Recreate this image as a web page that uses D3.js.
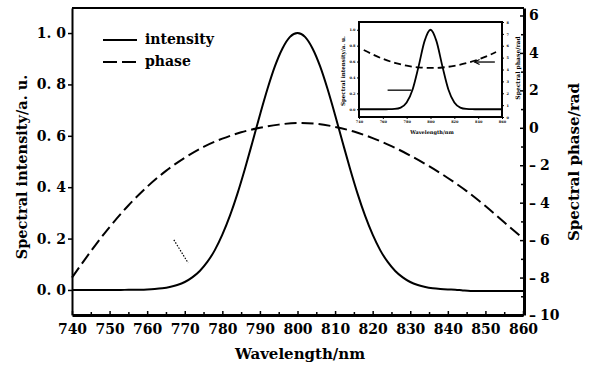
<!DOCTYPE html>
<html>
<head>
<meta charset="utf-8">
<script src="https://cdn.jsdelivr.net/npm/d3@7/dist/d3.min.js"></script>
<style>
  body { margin: 0; background: #fff; }
  svg { display: block; font-family: "DejaVu Serif", serif; }
  .axis path, .axis line { stroke: #000; }
  .axis text { fill: #000; font-family: "DejaVu Serif", serif; font-weight: bold; font-size: 14px; }
  .inset .axis text { font-size: 3.5px; }
</style>
</head>
<body>
<svg id="chart" width="593" height="372"></svg>
<script>
// ---- main chart data ----
var wavelength = [740,742,744,746,748,750,752,754,756,758,760,762,764,766,768,770,772,774,776,778,
  780,782,784,786,788,790,792,794,796,798,800,802,804,806,808,810,812,814,816,818,
  820,822,824,826,828,830,832,834,836,838,840,842,844,846,848,850,852,854,856,858,860];
var intensity = [0,0,0,0,0,0,0.0001,0.0003,0.0006,0.0011,0.0021,0.0039,0.0068,0.0117,0.0195,0.031,0.049,0.074,0.109,0.155,
  0.215,0.288,0.374,0.471,0.575,0.681,0.782,0.871,0.940,0.985,1.0,0.985,0.940,0.871,0.782,0.681,0.575,0.471,0.374,0.288,
  0.215,0.155,0.109,0.074,0.049,0.031,0.0195,0.0117,0.0068,0.0039,0.0021,0.0011,-0.002,-0.004,-0.004,-0.004,-0.004,-0.004,-0.004,-0.004,-0.004];

var phaseWavelength = [740,745,750,755,760,765,770,775,780,785,790,795,800,805,810,815,820,825,830,835,840,845,850,855,860];
var phase = [-8.0,-6.6,-5.3,-4.15,-3.15,-2.3,-1.6,-1.02,-0.58,-0.24,0.0,0.17,0.26,0.22,0.05,-0.2,-0.55,-0.98,-1.48,-2.05,-2.68,-3.38,-4.18,-5.05,-5.9];

var xTicks = [740,750,760,770,780,790,800,810,820,830,840,850,860];
var xMinorTicks = [745,755,765,775,785,795,805,815,825,835,845,855];
var intensityTicks = [0,0.2,0.4,0.6,0.8,1.0];
var phaseTicks = [6,4,2,0,-2,-4,-6,-8,-10];
var phaseMinorTicks = [5,3,1,-1,-3,-5,-7,-9];
var legendLabels = ['intensity', 'phase'];

// stray dotted stroke in the scan, in data units (wavelength, intensity)
var strayMark = [[767.1, 0.195], [770.9, 0.105]];

// ---- inset data ----
var insetWavelength = [740,745,750,755,760,765,770,775,780,785,790,795,800,805,810,815,820,825,830,835,840,845,850,855,860];
var insetIntensity = [0,0,0,0,0,0.0005,0.004,0.021,0.085,0.249,0.539,0.857,1.0,0.857,0.539,0.249,0.085,0.021,0.004,0.0005,0,0,0,0,0];
var insetPhaseWavelength = [744,750,760,770,780,790,800,810,820,830,840,850,855];
var insetPhase = [5.64,5.34,4.90,4.56,4.32,4.18,4.13,4.17,4.31,4.53,4.84,5.24,5.47];
var insetXTicks = [740,760,780,800,820,840,860];
var insetIntensityTicks = [0,0.2,0.4,0.6,0.8,1.0];
var insetPhaseTicks = [0,1,2,3,4,5,6,7,8];
// arrows in the inset: [from wavelength, to wavelength, value, which axis]
var insetArrows = [[764, 784, 0.24, 'left'], [837, 854, 4.63, 'right']];

var svg = d3.select('#chart');

var x = d3.scaleLinear().domain([740, 860]).range([72, 523]);
var yI = d3.scaleLinear().domain([-0.0975, 1.0975]).range([315, 8]);
var yP = d3.scaleLinear().domain([-10, 6.4]).range([315, 8]);

var fmtI = function(d){ return d.toFixed(1).replace('.', '. '); };

// curves
var lineI = d3.line()
  .x(function(d, i){ return x(wavelength[i]); })
  .y(function(d){ return yI(d); })
  .curve(d3.curveMonotoneX);

var lineP = d3.line()
  .x(function(d, i){ return x(phaseWavelength[i]); })
  .y(function(d){ return yP(d); })
  .curve(d3.curveMonotoneX);

svg.append('path').attr('d', lineP(phase))
  .attr('fill', 'none').attr('stroke', '#000').attr('stroke-width', 2)
  .attr('stroke-dasharray', '12,5');

svg.append('path').attr('d', lineI(intensity))
  .attr('fill', 'none').attr('stroke', '#000').attr('stroke-width', 2);

svg.append('line')
  .attr('x1', x(strayMark[0][0])).attr('y1', yI(strayMark[0][1]))
  .attr('x2', x(strayMark[1][0])).attr('y2', yI(strayMark[1][1]))
  .attr('stroke', '#000').attr('stroke-width', 1.2).attr('stroke-dasharray', '1.5,1.5');

// frame top
svg.append('line').attr('x1', 72).attr('x2', 524).attr('y1', 8).attr('y2', 8)
  .attr('stroke', '#000').attr('stroke-width', 2);

// left axis
svg.append('g').attr('class', 'axis')
  .attr('transform', 'translate(72,0)')
  .call(d3.axisLeft(yI).tickValues(intensityTicks).tickFormat(fmtI).tickSizeOuter(0).tickSizeInner(4).tickPadding(2))
  .call(function(g){ g.select('.domain').attr('stroke-width', 2); g.selectAll('line').attr('stroke-width', 1.5); });

// bottom axis
svg.append('g').attr('class', 'axis')
  .attr('transform', 'translate(0,315)')
  .call(d3.axisBottom(x).tickValues(xTicks).tickFormat(d3.format('d')).tickSizeOuter(0).tickSizeInner(-4).tickPadding(9))
  .call(function(g){ g.select('.domain').attr('stroke-width', 3); g.selectAll('line').attr('stroke-width', 1.5); });

svg.append('g').attr('class', 'axis')
  .attr('transform', 'translate(0,315)')
  .call(d3.axisBottom(x).tickValues(xMinorTicks).tickFormat('').tickSizeOuter(0).tickSizeInner(-3))
  .call(function(g){ g.select('.domain').remove(); g.selectAll('line').attr('stroke-width', 1.5); });

// right axis: numbers only, the minus of a negative label is its own tspan
svg.append('g').attr('class', 'axis')
  .attr('transform', 'translate(524,0)')
  .call(d3.axisRight(yP).tickValues(phaseTicks).tickFormat(function(d){ return String(Math.abs(d)); })
    .tickSizeOuter(0).tickSizeInner(-4).tickPadding(5))
  .call(function(g){
    g.select('.domain').attr('stroke-width', 3);
    g.selectAll('line').attr('stroke-width', 1.5);
    g.selectAll('.tick text').filter(function(d){ return d < 0; })
      .each(function(){
        var t = d3.select(this), num = t.text();
        t.text('');
        t.append('tspan').style('fill', '#000').text('\u2013');
        t.append('tspan').attr('dx', 4).text(num);
      });
  });

svg.append('g').attr('class', 'axis')
  .attr('transform', 'translate(524,0)')
  .call(d3.axisRight(yP).tickValues(phaseMinorTicks).tickFormat('').tickSizeOuter(0).tickSizeInner(-3))
  .call(function(g){ g.select('.domain').remove(); g.selectAll('line').attr('stroke-width', 1.5); });

// axis titles
svg.append('text')
  .attr('transform', 'translate(27,167) rotate(-90)')
  .attr('text-anchor', 'middle')
  .style('font-size', '14.5px').style('font-weight', 'bold')
  .text('Spectral intensity/a. u.');

svg.append('text')
  .attr('transform', 'translate(579,162) rotate(-90)')
  .attr('text-anchor', 'middle')
  .style('font-size', '15px').style('font-weight', 'bold')
  .text('Spectral phase/rad');

svg.append('text')
  .attr('x', 300).attr('y', 359)
  .attr('text-anchor', 'middle')
  .style('font-size', '15px').style('font-weight', 'bold')
  .text('Wavelength/nm');

// legend
var legend = svg.append('g').selectAll('g').data(legendLabels).enter().append('g')
  .attr('transform', function(d, i){ return 'translate(103,' + (40 + i * 22) + ')'; });

legend.append('line')
  .attr('x1', 0).attr('x2', 34).attr('y1', 0).attr('y2', 0)
  .attr('stroke', '#000').attr('stroke-width', 1.8)
  .attr('stroke-dasharray', function(d, i){ return i === 1 ? '14,5' : null; });

legend.append('text')
  .attr('x', 42).attr('dy', '0.32em')
  .style('font-size', '14px').style('font-weight', 'bold')
  .text(function(d){ return d; });

// ---- inset ----
var inset = svg.append('g').attr('class', 'inset');
var ix = d3.scaleLinear().domain([740, 860]).range([359, 502]);
var iyI = d3.scaleLinear().domain([-0.0975, 1.0975]).range([117, 22]);
var iyP = d3.scaleLinear().domain([0, 8]).range([117, 22]);

inset.append('rect').attr('x', 359).attr('y', 22).attr('width', 143).attr('height', 95)
  .attr('fill', '#fff').attr('stroke', '#000').attr('stroke-width', 2);

inset.append('path')
  .attr('d', d3.line()
    .x(function(d, i){ return ix(insetWavelength[i]); })
    .y(function(d){ return iyI(d); })
    .curve(d3.curveMonotoneX)(insetIntensity))
  .attr('fill', 'none').attr('stroke', '#000').attr('stroke-width', 1.8);

inset.append('path')
  .attr('d', d3.line()
    .x(function(d, i){ return ix(insetPhaseWavelength[i]); })
    .y(function(d){ return iyP(d); })
    .curve(d3.curveMonotoneX)(insetPhase))
  .attr('fill', 'none').attr('stroke', '#000').attr('stroke-width', 1.8)
  .attr('stroke-dasharray', '7,4');

inset.selectAll('line.arrow').data(insetArrows).enter().append('line')
  .attr('class', 'arrow')
  .attr('x1', function(d){ return ix(d[0]); })
  .attr('x2', function(d){ return ix(d[1]); })
  .attr('y1', function(d){ return d[3] === 'left' ? iyI(d[2]) : iyP(d[2]); })
  .attr('y2', function(d){ return d[3] === 'left' ? iyI(d[2]) : iyP(d[2]); })
  .attr('stroke', '#000').attr('stroke-width', 1.3);

inset.selectAll('path.head').data(insetArrows.filter(function(d){ return d[3] === 'right'; })).enter().append('path')
  .attr('class', 'head')
  .attr('d', function(d){
    var px = ix(d[0]), py = iyP(d[2]);
    return 'M' + (px + 5) + ',' + (py - 2.5) + 'L' + px + ',' + py + 'L' + (px + 5) + ',' + (py + 2.5);
  })
  .attr('fill', 'none').attr('stroke', '#000').attr('stroke-width', 1.2);

inset.append('g').attr('class', 'axis')
  .attr('transform', 'translate(359,0)')
  .call(d3.axisLeft(iyI).tickValues(insetIntensityTicks).tickFormat(d3.format('.1f')).tickSizeOuter(0).tickSize(2).tickPadding(1.5))
  .call(function(g){ g.select('.domain').remove(); });

inset.append('g').attr('class', 'axis')
  .attr('transform', 'translate(502,0)')
  .call(d3.axisRight(iyP).tickValues(insetPhaseTicks).tickFormat(d3.format('d')).tickSizeOuter(0).tickSize(2).tickPadding(2.5))
  .call(function(g){ g.select('.domain').remove(); });

inset.append('g').attr('class', 'axis')
  .attr('transform', 'translate(0,117)')
  .call(d3.axisBottom(ix).tickValues(insetXTicks).tickFormat(d3.format('d')).tickSizeOuter(0).tickSize(2).tickPadding(2))
  .call(function(g){ g.select('.domain').remove(); });

inset.append('text')
  .attr('transform', 'translate(345,71) rotate(-90)')
  .attr('text-anchor', 'middle')
  .style('font-size', '5.5px').style('font-weight', 'bold')
  .text('Spectral intensity/a. u.');

inset.append('text')
  .attr('transform', 'translate(520,68) rotate(-90)')
  .attr('text-anchor', 'middle')
  .style('font-size', '6px').style('font-weight', 'bold')
  .text('Spectral phase/rad');

inset.append('text')
  .attr('x', 432).attr('y', 134)
  .attr('text-anchor', 'middle')
  .style('font-size', '5px').style('font-weight', 'bold')
  .text('Wavelength/nm');
</script>
</body>
</html>
